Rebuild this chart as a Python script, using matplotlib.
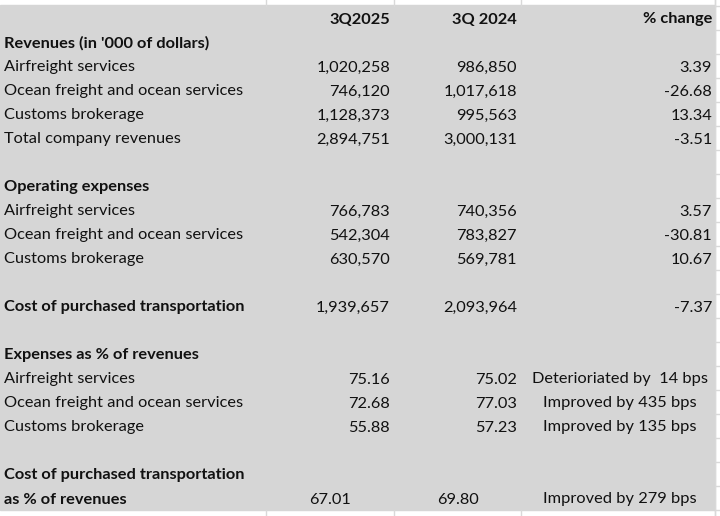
import matplotlib
matplotlib.use("Agg")
import matplotlib.pyplot as plt
from matplotlib.patches import Rectangle

plt.rcParams['font.family'] = ['Lato', 'DejaVu Sans']

# table data
header = ["", "3Q2025", "3Q 2024", "% change"]

rev_title = "Revenues (in '000 of dollars)"
rev_labels = ["Airfreight services", "Ocean freight and ocean services",
              "Customs brokerage", "Total company revenues"]
rev_2025 = ["1,020,258", "746,120", "1,128,373", "2,894,751"]
rev_2024 = ["986,850", "1,017,618", "995,563", "3,000,131"]
rev_chg = ["3.39", "-26.68", "13.34", "-3.51"]

opex_title = "Operating expenses"
opex_labels = ["Airfreight services", "Ocean freight and ocean services",
               "Customs brokerage"]
opex_2025 = ["766,783", "542,304", "630,570"]
opex_2024 = ["740,356", "783,827", "569,781"]
opex_chg = ["3.57", "-30.81", "10.67"]

cpt_label = "Cost of purchased transportation"
cpt_2025 = "1,939,657"
cpt_2024 = "2,093,964"
cpt_chg = "-7.37"

pct_title = "Expenses as % of revenues"
pct_labels = ["Airfreight services", "Ocean freight and ocean services",
              "Customs brokerage"]
pct_2025 = ["75.16", "72.68", "55.88"]
pct_2024 = ["75.02", "77.03", "57.23"]
pct_note = ["Deterioriated by  14 bps", "Improved by 435 bps", "Improved by 135 bps"]

tot_title = "Cost of purchased transportation"
tot_label = "as % of revenues"
tot_2025 = "67.01"
tot_2024 = "69.80"
tot_note = "Improved by 279 bps"

# layout (pixels)
W, H = 720, 516
row_h = 24
y0 = 19.5
col_edges = [0, 266, 394, 521, 715]
grey = "#D6D6D6"
grid = "#D9D9D9"
fs = 11.8

fig = plt.figure(figsize=(W / 100, H / 100), dpi=100)
ax = fig.add_axes([0, 0, 1, 1])
ax.set_xlim(0, W)
ax.set_ylim(H, 0)
ax.axis("off")
fig.patch.set_facecolor("white")

# spreadsheet gridlines in the white margin
for x in col_edges[1:]:
    ax.plot([x, x], [0, 6], color=grid, lw=1)
for i in range(22):
    yb = 6 + i * row_h
    ax.plot([715, W], [yb, yb], color=grid, lw=1)
ax.plot([715, 715], [0, H], color=grid, lw=1)
for x in col_edges[1:]:
    ax.plot([x, x], [510, H], color=grid, lw=1)

ax.add_patch(Rectangle((0, 5), 715, 505, color=grey, zorder=1))


def row_y(i):
    return y0 + i * row_h


def put(i, label=None, c1=None, c2=None, c3=None, bold=False, center_vals=False, center_note=False):
    y = row_y(i)
    w = "bold" if bold else "normal"
    kw = dict(va="center", fontsize=fs, color="#111111", zorder=3)
    if label:
        ax.text(4, y, label, ha="left", fontweight=w, **kw)
    if c1:
        if center_vals:
            ax.text((col_edges[1] + col_edges[2]) / 2, y, c1, ha="center", **kw)
        else:
            ax.text(col_edges[2] - 4, y, c1, ha="right", fontweight=w, **kw)
    if c2:
        if center_vals:
            ax.text((col_edges[2] + col_edges[3]) / 2, y, c2, ha="center", **kw)
        else:
            ax.text(col_edges[3] - 4, y, c2, ha="right", fontweight=w, **kw)
    if c3:
        if center_note:
            ax.text((col_edges[3] + col_edges[4]) / 2 + 2, y, c3, ha="center", **kw)
        else:
            ax.text(col_edges[4] - 3, y, c3, ha="right", fontweight=w, **kw)


put(0, None, header[1], header[2], header[3], bold=True)
put(1, rev_title, bold=True)
for k in range(len(rev_labels)):
    put(2 + k, rev_labels[k], rev_2025[k], rev_2024[k], rev_chg[k])
put(7, opex_title, bold=True)
for k in range(len(opex_labels)):
    put(8 + k, opex_labels[k], opex_2025[k], opex_2024[k], opex_chg[k])
put(12, cpt_label, bold=True)
put(12, None, cpt_2025, cpt_2024, cpt_chg)
put(14, pct_title, bold=True)
for k in range(len(pct_labels)):
    put(15 + k, pct_labels[k], pct_2025[k], pct_2024[k], pct_note[k], center_note=True)
put(19, tot_title, bold=True)
put(20, tot_label, bold=True)
put(20, None, tot_2025, tot_2024, tot_note, center_vals=True, center_note=True)

fig.savefig("out.png", dpi=100)
